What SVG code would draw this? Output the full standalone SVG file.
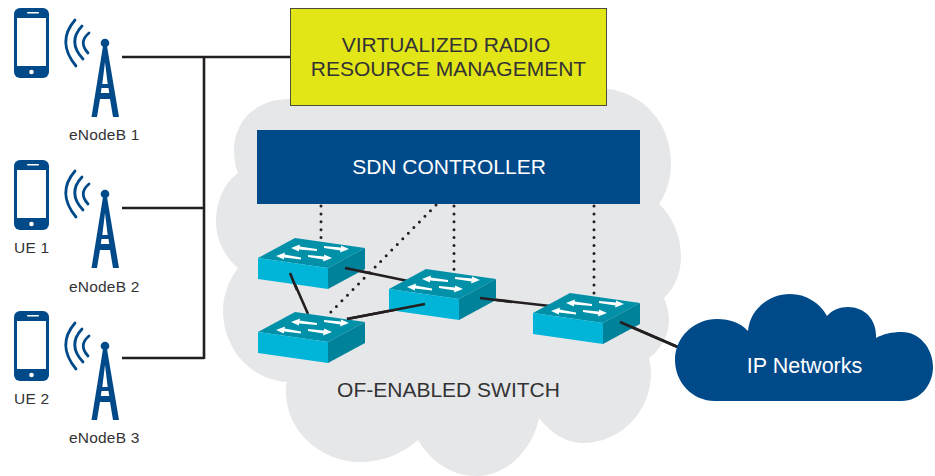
<svg xmlns="http://www.w3.org/2000/svg" width="935" height="476" viewBox="0 0 935 476">
<style>
text{font-family:"Liberation Sans",Arial,sans-serif;fill:#333335}
.lbl{font-size:15.5px;letter-spacing:.2px}
.big{font-size:21px;text-anchor:middle}
.w{fill:#fff}
.blue{fill:#004a8a}
.wave{fill:none;stroke:#004a8a;stroke-width:2.8;stroke-linecap:round}
.line{fill:none;stroke:#231f20;stroke-width:2.6}
.dot{fill:none;stroke:#231f20;stroke-width:3;stroke-linecap:round;stroke-dasharray:0 7.9}
</style>
<defs>
<g id="phone">
<rect class="blue" x="14" y="8" width="35" height="70" rx="6"/>
<rect class="w" x="17" y="18" width="29" height="48"/>
<rect class="w" x="27" y="12" width="12" height="1.4" rx="0.7"/>
<circle class="w" cx="31.5" cy="72" r="2.3"/>
</g>
<g id="tower">
<path class="wave" d="M75 20Q56 42 76 66M82 26Q67 42 83 59M89 33Q78 42 88 53"/>
<circle class="blue" cx="105" cy="43" r="4.300"/>
<path class="blue" fill-rule="evenodd" d="M103 46H107L119 117H113L110 99H100L97 117H91.500ZM105 62L102.300 84H107.700ZM101.500 88L100.800 93H109.200L108.500 88Z"/>
</g>
<g id="sw">
<path d="M0 0L37 -20L107 -10L70 10Z" fill="#0090a8"/>
<path d="M0 0L70 10V31L0 21Z" fill="#00b5d8"/>
<path d="M70 10L107 -10V11L70 31Z" fill="#00829b"/>
<g class="w">
<path d="M33 -10L42 -13.500L41.500 -11.500L59 -9V-7L41 -8.500L41 -6.500Z"/>
<path d="M91 -9L82 -5.500L82.500 -7.500L66 -10V-12L83 -10.500L83 -12.500Z"/>
<path d="M18 -2L27 -5.500L26.500 -3.500L43 -0.500V1.500L26 -0.500L26 1.500Z"/>
<path d="M74 0L65 3.500L65.500 1.500L50 -1V-3L66 -1.500L66 -3.500Z"/>
</g>
</g>
</defs>
<path id="gray-cloud" fill="#e6e7e8" d="M290 99C255 99 234 122 234 150C234 158 235 166 238 173C224 183 216 202 216 222C216 240 225 257 238 268C229 280 223 295 223 310C223 350 252 380 287 382C285 388 286 392 286 395C288 433 322 462 360 462C382 462 403 454 418 440C430 460 450 476 477 476C505 476 532 452 539 418C550 432 565 443 583 443C620 443 651 412 651 373C651 367 650 362 649 358C660 350 669 336 669 320C669 312 667 305 664 298C675 288 681 272 681 257C681 235 672 216 659 204C667 192 671 178 671 163C671 122 642 93 608 89Z"/>
<g id="connectors">
<path class="line" d="M122 57H290M122 208H204M122 358H204M204 56V359"/>
<path class="dot" d="M321 206V240M454 206V272M594 206V295M436 205L330 313"/>
<path class="line" d="M345 268L408 281M290 273L308 314M347 319L425 304M480 298L550 306M620 322L680 348"/>
</g>
<g id="ue-top"><use href="#phone"/></g>
<g id="ue-1"><use href="#phone" y="152"/><text class="lbl" x="14" y="253">UE 1</text></g>
<g id="ue-2"><use href="#phone" y="303"/><text class="lbl" x="14" y="404">UE 2</text></g>
<g id="enodeb-1"><use href="#tower"/><text class="lbl" x="69" y="140">eNodeB 1</text></g>
<g id="enodeb-2"><use href="#tower" y="151"/><text class="lbl" x="69" y="292">eNodeB 2</text></g>
<g id="enodeb-3"><use href="#tower" y="303"/><text class="lbl" x="69" y="443">eNodeB 3</text></g>
<g id="vrrm">
<rect x="290.500" y="8.500" width="316" height="97" fill="#e2e516" stroke="#4d4d3a"/>
<text class="big" x="446" y="52">VIRTUALIZED RADIO</text>
<text class="big" x="448.500" y="76">RESOURCE MANAGEMENT</text>
</g>
<g id="sdn">
<rect class="blue" x="257" y="130" width="383" height="74"/>
<text class="big" x="449" y="174" style="fill:#fff">SDN CONTROLLER</text>
</g>
<g id="switch-1"><use href="#sw" x="258" y="258"/></g>
<g id="switch-2"><use href="#sw" x="258" y="332"/></g>
<g id="switch-3"><use href="#sw" x="389" y="289"/></g>
<g id="switch-4"><use href="#sw" x="533" y="313"/></g>
<g id="connectors-top">
<path class="line" d="M345 268L372 273.500M290 273L297 290M347 319L425 304M480 298L512 302M620 322L680 348"/>
</g>
<text class="big" x="448.500" y="397">OF-ENABLED SWITCH</text>
<g id="ip-networks">
<path class="blue" d="M715 401C692 401 675 382 675 360C675 337 694 319 717 319C730 319 741 323 748 331C750 310 768 294 790 294C806 294 820 303 827 316C832 310 840 307 848 307C865 307 877 320 876 338C883 334 892 332 902 332C919 332 933 348 933 367C933 386 919 401 902 401Z"/>
<text x="804.500" y="373" text-anchor="middle" font-size="21.500" style="fill:#fff">IP Networks</text>
</g>
</svg>
